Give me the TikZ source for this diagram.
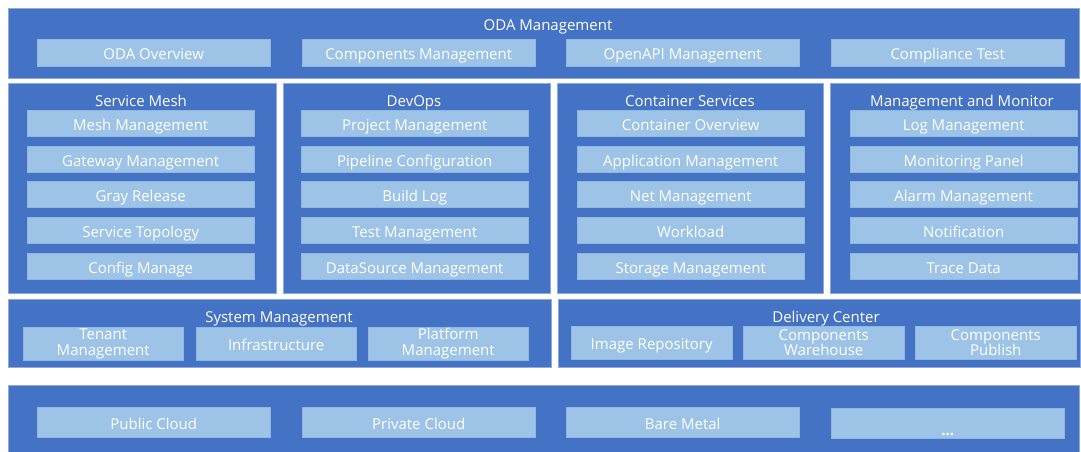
\documentclass[tikz,border=0pt]{standalone}
\usepackage{fontspec}
\setmainfont{Open Sans}
\definecolor{odablue}{HTML}{4472C4}
\definecolor{odalight}{HTML}{9DC3E6}
\definecolor{odaedge}{HTML}{8FAADC}
\tikzset{
  panel/.style={fill=odablue, draw=odaedge, line width=0.6pt, anchor=north west, inner sep=0pt},
  item/.style={fill=odalight, draw=odalight!85!odablue, line width=0.4pt, anchor=north west,
    inner sep=0pt, text=white, font=\fontsize{15}{15.7}\selectfont, text height=14pt, text depth=0pt},
  item2/.style={item, align=center, text height=, text depth=},
  title/.style={text=white, inner sep=0pt, anchor=base, font=\fontsize{15}{15.7}\selectfont}
}

\begin{document}
\begin{tikzpicture}[x=1pt,y=-1pt]
\useasboundingbox (0,0) rectangle (1081,452);

% ODA Management
\node[panel, minimum width=1071, minimum height=70] (oda) at (8,8) {};
\node[title] (odatitle) at (548,31) {ODA Management};
\foreach \t/\x/\n in {ODA Overview/37/ov, Components Management/302/cm,
    OpenAPI Management/566/api, Compliance Test/831/ct}
  \node[item, minimum width=233, minimum height=27] (oda-\n) at (\x,39) {\t};

% four service columns
\node[panel, minimum width=268, minimum height=210] (mesh) at (8,83) {};
\node[panel, minimum width=267, minimum height=210] (devops) at (283,83) {};
\node[panel, minimum width=266, minimum height=210] (container) at (557,83) {};
\node[panel, minimum width=250, minimum height=210] (monitor) at (830,83) {};

\node[title] (meshtitle) at (141,106.5) {Service Mesh};
\node[title] (devopstitle) at (414,106.5) {DevOps};
\node[title] (containertitle) at (690,106.5) {Container Services};
\node[title] (monitortitle) at (962,106.5) {Management and Monitor};

\foreach \t/\y [count=\i] in {Mesh Management/110, Gateway Management/146, Gray Release/181,
    Service Topology/217, Config Manage/253}
  \node[item, minimum width=227, minimum height=26] (mesh-\i) at (27,\y) {\t};
\foreach \t/\y [count=\i] in {Project Management/110, Pipeline Configuration/146, Build Log/181,
    Test Management/217, DataSource Management/253}
  \node[item, minimum width=227, minimum height=26] (devops-\i) at (301,\y) {\t};
\foreach \t/\y [count=\i] in {Container Overview/110, Application Management/146, Net Management/181,
    Workload/217, Storage Management/253}
  \node[item, minimum width=227, minimum height=26] (container-\i) at (577,\y) {\t};
\foreach \t/\y [count=\i] in {Log Management/110, Monitoring Panel/146, Alarm Management/181,
    Notification/217, Trace Data/253}
  \node[item, minimum width=227, minimum height=26] (monitor-\i) at (850,\y) {\t};

% System Management / Delivery Center
\node[panel, minimum width=543, minimum height=68] (system) at (8,299) {};
\node[panel, minimum width=522, minimum height=68] (delivery) at (558,299) {};
\node[title] (systemtitle) at (279,322) {System Management};
\node[title] (deliverytitle) at (826,322) {Delivery Center};

\node[item2, minimum width=160, minimum height=33] (system-1) at (23,327) {Tenant\\Management};
\node[item, minimum width=160, minimum height=33] (system-2) at (196,327) {Infrastructure};
\node[item2, minimum width=160, minimum height=33] (system-3) at (368,327) {Platform\\Management};
\node[item, minimum width=161, minimum height=33] (delivery-1) at (571,326) {Image Repository};
\node[item2, minimum width=161, minimum height=33] (delivery-2) at (743,326) {Components\\Warehouse};
\node[item2, minimum width=161, minimum height=33] (delivery-3) at (915,326) {Components\\Publish};

% infrastructure layer
\node[panel, minimum width=1071, minimum height=72] (infra) at (8,385) {};
\foreach \t/\x/\n in {Public Cloud/37/pub, Private Cloud/302/priv, Bare Metal/566/bare}
  \node[item, minimum width=233, minimum height=30] (infra-\n) at (\x,407) {\t};
\node[item, minimum width=233, minimum height=30] (infra-more) at (831,408)
  {\raisebox{-5pt}{\textbf{...}}};

\end{tikzpicture}
\end{document}
